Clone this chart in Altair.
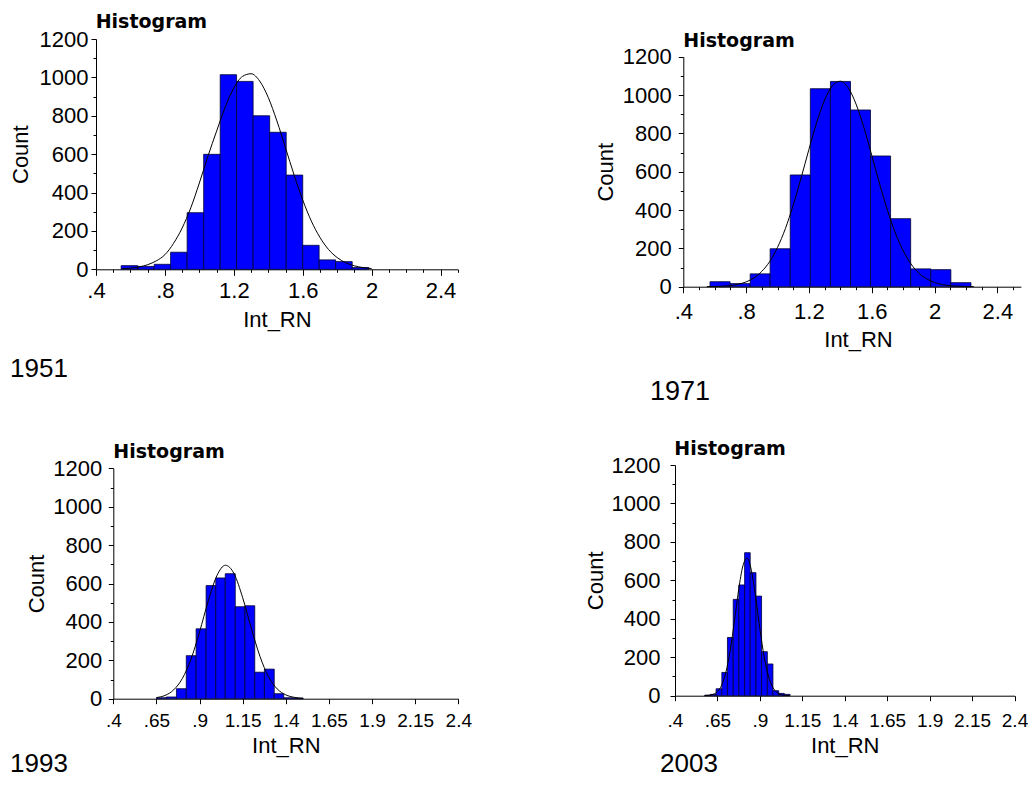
import altair as alt
import pandas as pd

W, H = 1020, 771
LAB = "Liberation Sans"

# ---------------- data ----------------
years = ["1951", "1971", "1993", "2003"]

edges_1951 = [0.546, 0.642, 0.738, 0.833, 0.929, 1.025, 1.121, 1.216, 1.312,
              1.408, 1.504, 1.600, 1.695, 1.791, 1.887, 1.983]
counts_1951 = [19, 15, 26, 89, 295, 599, 1014, 979, 800, 714, 491, 125, 49, 40, 9]
curve_x_1951 = [0.55, 0.60, 0.65, 0.70, 0.75, 0.80, 0.85, 0.90, 0.95, 1.00,
                1.05, 1.10, 1.15, 1.20, 1.25, 1.30, 1.35, 1.40, 1.45, 1.50,
                1.55, 1.60, 1.65, 1.70, 1.75, 1.80, 1.85, 1.90, 1.95, 2.00]
curve_y_1951 = [3, 6, 12, 24, 44, 76, 135, 215, 320, 450,
                590, 720, 845, 945, 1005, 1019, 981, 895, 773, 633,
                491, 361, 251, 166, 103, 61, 34, 18, 9, 4]

edges_1971 = [0.570, 0.698, 0.826, 0.953, 1.081, 1.209, 1.337, 1.465, 1.592,
              1.720, 1.848, 1.976, 2.104, 2.232]
counts_1971 = [26, 16, 67, 198, 583, 1033, 1071, 922, 682, 355, 93, 89, 21]
curve_x_1971 = [0.55, 0.60, 0.65, 0.70, 0.75, 0.80, 0.85, 0.90, 0.95, 1.00,
                1.05, 1.10, 1.15, 1.20, 1.25, 1.30, 1.35, 1.40, 1.45, 1.50,
                1.55, 1.60, 1.65, 1.70, 1.75, 1.80, 1.85, 1.90, 1.95, 2.00,
                2.05, 2.10, 2.15, 2.20, 2.25]
curve_y_1971 = [0.5, 1, 3, 6, 13, 25, 46, 80, 131, 205,
                303, 426, 567, 716, 858, 974, 1049, 1072, 1038, 953,
                831, 686, 537, 399, 281, 188, 119, 71, 41, 22,
                11, 5, 3, 1, 0.5]

edges_1993 = [0.650, 0.708, 0.766, 0.823, 0.880, 0.938, 0.994, 1.049, 1.107,
              1.163, 1.220, 1.276, 1.333, 1.388, 1.445, 1.501]
counts_1993 = [5, 9, 52, 224, 364, 589, 629, 651, 479, 484, 138, 154, 26, 5, 3]
curve_x_1993 = [0.65, 0.70, 0.75, 0.80, 0.85, 0.90, 0.95, 1.00, 1.05,
                1.10, 1.15, 1.20, 1.25, 1.30, 1.35, 1.40, 1.45, 1.50]
curve_y_1993 = [6, 17, 46, 105, 205, 348, 508, 640, 695,
                651, 526, 367, 221, 114, 51, 20, 7, 2]

edges_2003 = [0.575, 0.609, 0.642, 0.676, 0.709, 0.743, 0.776, 0.810, 0.843,
              0.877, 0.910, 0.944, 0.977, 1.011, 1.044, 1.078]
counts_2003 = [3, 7, 36, 121, 303, 501, 576, 744, 640, 518, 229, 165, 26, 12, 7]
curve_x_2003 = [0.575, 0.600, 0.625, 0.650, 0.675, 0.700, 0.725, 0.750, 0.775,
                0.800, 0.825, 0.850, 0.875, 0.900, 0.925, 0.950, 0.975, 1.000,
                1.025, 1.050, 1.075]
curve_y_2003 = [0.5, 2, 7, 22, 55, 123, 235, 387, 551,
                675, 715, 652, 513, 348, 204, 103, 45, 17,
                5, 1.5, 0.4]

top_ticks = [0.4, 0.8, 1.2, 1.6, 2.0, 2.4]
top_minor = [0.5, 0.6, 0.7, 0.9, 1.0, 1.1, 1.3, 1.4, 1.5, 1.7, 1.8, 1.9, 2.1, 2.2, 2.3, 2.5]
bottom_ticks = [0.4, 0.65, 0.9, 1.15, 1.4, 1.65, 1.9, 2.15, 2.4]
y_ticks = [0, 200, 400, 600, 800, 1000, 1200]
y_minor = [100, 300, 500, 700, 900, 1100]

LABEL_EXPR = ("datum.value < 1 ? replace(format(datum.value, '.2~f'), '0.', '.') "
              ": format(datum.value, '.2~f')")


def panel(edges, counts, cx, cy, xdom, xr, yr, xmajor, xminor,
          xlab_size, xlab_pad, xtitle_pad, ylab_pad, ytitle_pad, xtick,
          title_x=None):
    bars_df = pd.DataFrame({"lo": edges[:-1], "hi": edges[1:], "n": counts})
    curve_df = pd.DataFrame({"v": cx, "f": cy})
    xoff = yr[0] - H
    yoff = -xr[0]
    xs = alt.Scale(domain=xdom, range=xr, nice=False, zero=False)
    ys = alt.Scale(domain=[0, 1200], range=yr, nice=False, zero=False)

    xkw = dict(orient="bottom", offset=xoff, values=xmajor, labelExpr=LABEL_EXPR,
               title="Int_RN", titleFontSize=22, titlePadding=xtitle_pad,
               labelFontSize=xlab_size, labelPadding=xlab_pad, tickSize=xtick,
               labelFlush=False, labelOverlap=False, grid=False)
    if title_x is not None:
        xkw["titleX"] = title_x
    x_major = alt.Axis(**xkw)
    y_major = alt.Axis(orient="left", offset=yoff, values=y_ticks, format="d",
                       title="Count", titleFontSize=22, titlePadding=ytitle_pad,
                       labelFontSize=22, labelPadding=ylab_pad, tickSize=5,
                       labelOverlap=False, grid=False)
    y_min = alt.Axis(orient="left", offset=yoff, values=y_minor, labels=False,
                     domain=False, tickSize=3, title=None, grid=False)
    if xminor:
        x_min = alt.Axis(orient="bottom", offset=xoff, values=xminor, labels=False,
                         domain=False, tickSize=3, title=None, grid=False)
    else:
        x_min = None

    bars = alt.Chart(bars_df).mark_rect(
        color="#0000FF", stroke="#000033", strokeWidth=0.8
    ).encode(
        x=alt.X("lo:Q", scale=xs, axis=x_major),
        x2="hi:Q",
        y=alt.Y("n:Q", scale=ys, axis=y_major),
        y2=alt.datum(0),
    )
    line = alt.Chart(curve_df).mark_line(
        color="black", strokeWidth=1, interpolate="monotone"
    ).encode(
        x=alt.X("v:Q", scale=xs, axis=x_min),
        y=alt.Y("f:Q", scale=ys, axis=y_min),
    )
    return [bars, line]


def text(t, x, y, size, font, weight="normal"):
    return alt.Chart(pd.DataFrame({"t": [t]})).mark_text(
        align="left", baseline="alphabetic", font=font, fontSize=size,
        fontWeight=weight, color="black"
    ).encode(x=alt.value(x), y=alt.value(y), text="t:N")


layers = []
layers += panel(edges_1951, counts_1951, curve_x_1951, curve_y_1951,
                [0.4, 2.5], [88, 449.8], [261.3, 31], top_ticks, top_minor,
                22, 5, 8, 3, 7, 6)
layers += panel(edges_1971, counts_1971, curve_x_1971, curve_y_1971,
                [0.4, 2.55], [675.3, 1012.9], [278.7, 48.7], top_ticks, top_minor,
                22, 8.5, 7, 7, 5, 6, title_x=850)
layers += panel(edges_1993, counts_1993, curve_x_1993, curve_y_1993,
                [0.4, 2.4], [105.3, 450.3], [690.7, 460.3], bottom_ticks, [],
                19, 7.5, 5, 6.5, 4, 5)
layers += panel(edges_2003, counts_2003, curve_x_2003, curve_y_2003,
                [0.4, 2.4], [667, 1006.5], [687.7, 457], bottom_ticks, [],
                19, 10.5, 5, 10, 4, 5)

HIST = "DejaVu Sans"
layers += [
    text("Histogram", 87.7, 20.3, 19, HIST, "bold"),
    text("Histogram", 675.3, 38.7, 19, HIST, "bold"),
    text("Histogram", 105.3, 450.3, 19, HIST, "bold"),
    text("Histogram", 666.3, 447, 19, HIST, "bold"),
    text(years[0], 2, 369, 26, LAB),
    text(years[1], 642, 392, 27, LAB),
    text(years[2], 2, 764, 26, LAB),
    text(years[3], 652, 764, 26, LAB),
]

chart = alt.layer(*layers).resolve_scale(
    x="independent", y="independent"
).resolve_axis(
    x="independent", y="independent"
).properties(
    width=W, height=H, padding=0,
    autosize=alt.AutoSizeParams(type="none"),
    background="white",
).configure_view(
    stroke=None
).configure_axis(
    labelFont=LAB, titleFont=LAB, titleFontWeight="normal",
    labelColor="black", titleColor="black",
    domainColor="black", tickColor="black", domainWidth=1, tickWidth=1,
)

chart.save("out.html", embed_options={"renderer": "svg", "actions": False})
